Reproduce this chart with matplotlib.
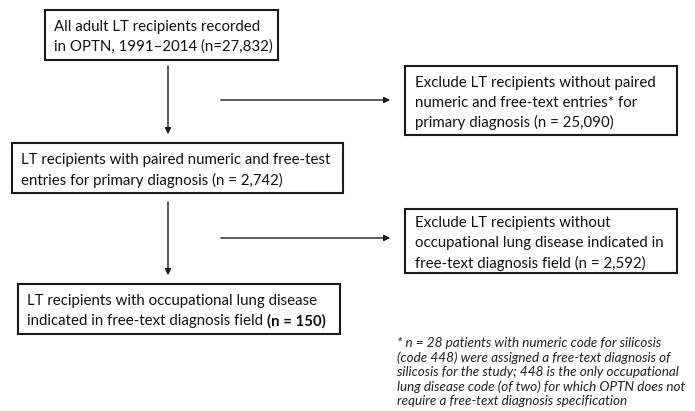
import matplotlib
matplotlib.use("Agg")
import matplotlib.pyplot as plt
from matplotlib.patches import Rectangle

plt.rcParams['font.family'] = ['Lato', 'DejaVu Sans']

# counts shown in the flow chart
n_all = "27,832"
n_paired = "2,742"
n_excl1 = "25,090"
n_excl2 = "2,592"
n_final = "150"

main_texts = [
    ["All adult LT recipients recorded", "in OPTN, 1991\u20132014 (n=" + n_all + ")"],
    ["LT recipients with paired numeric and free-test", "entries for primary diagnosis (n = " + n_paired + ")"],
    ["LT recipients with occupational lung disease", "indicated in free-text diagnosis field"],
]
side_texts = [
    ["Exclude LT recipients without paired", "numeric and free-text entries* for",
     "primary diagnosis (n = " + n_excl1 + ")"],
    ["Exclude LT recipients without", "occupational lung disease indicated in",
     "free-text diagnosis field (n = " + n_excl2 + ")"],
]
footnote = ("* n = 28 patients with numeric code for silicosis\n"
            "(code 448) were assigned a free-text diagnosis of\n"
            "silicosis for the study; 448 is the only occupational\n"
            "lung disease code (of two) for which OPTN does not\n"
            "require a free-text diagnosis specification")

# box geometry in pixels (x0, y0, x1, y1), y down
main_boxes = [(45, 10, 278, 60), (12, 143, 343, 193), (18, 284, 340, 334)]
side_boxes = [(405, 66, 677, 135), (405, 209, 677, 273)]

fig = plt.figure(figsize=(6.95, 4.11), dpi=100)
ax = fig.add_axes([0, 0, 1, 1])
ax.set_xlim(0, 695)
ax.set_ylim(411, 0)
ax.axis('off')

fs = 10.8
lc = '#1a1a1a'
tc = '#111111'
step = 20

def box(b, lines, pad=10):
    x0, y0, x1, y1 = b
    ax.add_patch(Rectangle((x0, y0), x1 - x0, y1 - y0, fill=False, lw=1.5, ec=lc))
    yc = (y0 + y1) / 2 + 2
    first = yc - step * (len(lines) - 1) / 2
    t = None
    for i, ln in enumerate(lines):
        t = ax.text(x0 + pad, first + i * step, ln, fontsize=fs, va='center', ha='left', color=tc)
    return t

for b, t in zip(main_boxes, main_texts):
    last = box(b, t, pad=9)
for b, t in zip(side_boxes, side_texts):
    box(b, t)

# bold part of last box
ax.annotate("(n = " + n_final + ")", xy=(1, 0.5), xycoords=last, va='center', ha='left',
            xytext=(3, 0), textcoords='offset points',
            fontsize=fs, fontweight='bold', color=tc)

# vertical arrows
for y0, y1 in [(63, 137), (199, 278)]:
    ax.annotate("", xy=(168, y1), xytext=(168, y0),
                arrowprops=dict(arrowstyle='-|>', color=lc, lw=1.0, mutation_scale=9))
# horizontal arrows
for y in [100, 238]:
    ax.annotate("", xy=(393, y), xytext=(218, y),
                arrowprops=dict(arrowstyle='-|>', color=lc, lw=1.0, mutation_scale=9))

ax.text(397, 372, footnote, fontsize=9.7, style='italic', va='center', ha='left',
        color='#222222', linespacing=1.22)

fig.savefig("out.png", dpi=100)
